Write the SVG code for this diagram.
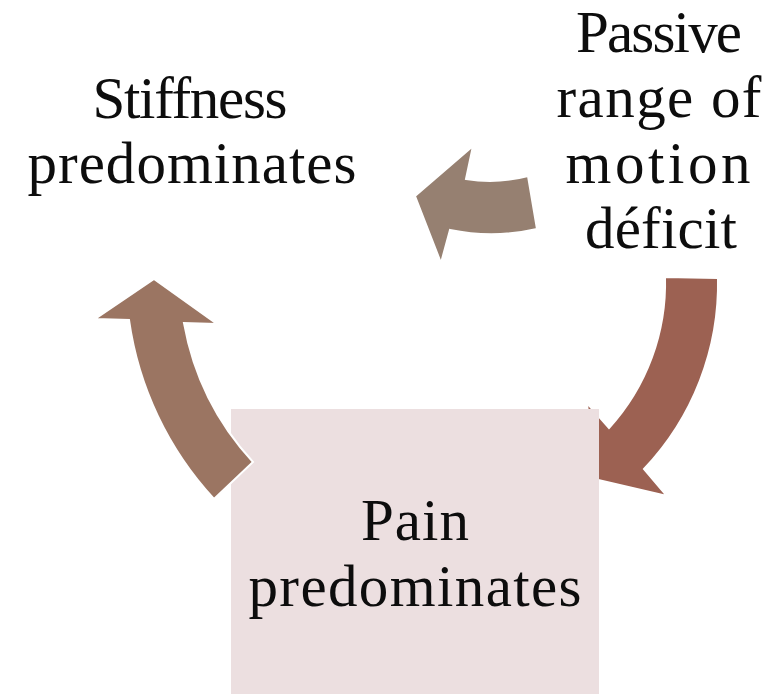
<svg xmlns="http://www.w3.org/2000/svg" width="781" height="694" viewBox="0 0 781 694">
  <style>
    .lbl { font-family: "Liberation Serif", "Times New Roman", serif; font-size: 59px; fill: #0d0d0d; text-anchor: middle; }
    .arrow { stroke: #ffffff; stroke-width: 2; stroke-linejoin: miter; }
  </style>
  <rect x="0" y="0" width="781" height="694" fill="#ffffff"/>

  <!-- curved connectors of the cycle -->
  <g id="connectors">
    <!-- passive range of motion deficit -> stiffness -->
    <path id="arrow-top" class="arrow" fill="#968071"
          d="M415,196 L473,146 L466,179 A151,151 0 0 0 528,176 L537,229 A204,204 0 0 1 450,230 L441,263 Z"/>
    <!-- passive range of motion deficit -> pain -->
    <path id="arrow-right" class="arrow" fill="#9c6152"
          d="M665,277 L718,278 A269,269 0 0 1 644,469 L667,496 L594,479 L587,403 L609,428 A215,215 0 0 0 665,277 Z"/>
  </g>

  <g id="node-pain">
    <rect x="231" y="409" width="368" height="285" fill="#ecdfe0"/>
    <text class="lbl" x="415" y="540" textLength="108">Pain</text>
    <text class="lbl" x="415" y="606" textLength="333">predominates</text>
  </g>

  <g id="connectors-front">
    <!-- pain -> stiffness -->
    <path id="arrow-left" class="arrow" fill="#9b7562"
          d="M154,279 L95,319 L129,320 A331,331 0 0 0 214,499 L253,462 A277,277 0 0 1 184,323 L217,324 Z"/>
  </g>

  <g id="node-stiffness">
    <text class="lbl" x="190" y="118" textLength="195">Stiffness</text>
    <text class="lbl" x="192" y="183" textLength="329">predominates</text>
  </g>

  <g id="node-passive">
    <text class="lbl" x="659" y="52" textLength="166">Passive</text>
    <text class="lbl" x="659" y="117" textLength="205">range of</text>
    <text class="lbl" x="658" y="183" textLength="185">motion</text>
    <text class="lbl" x="661" y="248" textLength="152">déficit</text>
  </g>
</svg>
